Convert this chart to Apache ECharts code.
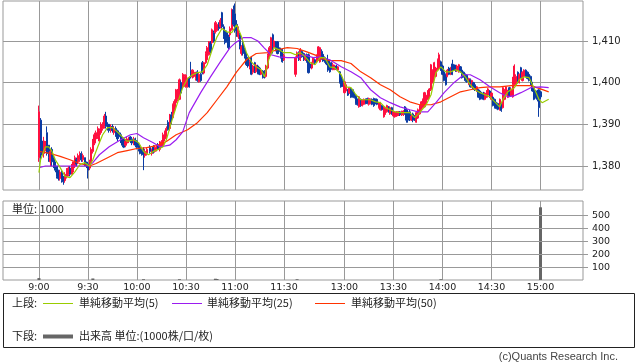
<!DOCTYPE html>
<html>
<head>
<meta charset="utf-8">
<script src="https://cdn.jsdelivr.net/npm/echarts@6/dist/echarts.min.js"></script>
<style>html,body{margin:0;padding:0;background:#fff;}#c{width:638px;height:362px;}</style>
</head>
<body>
<div id="c"></div>
<script>
// ---- tick labels (x axis) ----
const tickLabels = ["9:00","9:30","10:00","10:30","11:00","11:30","13:00","13:30","14:00","14:30","15:00"];
const priceTicks = [1380, 1390, 1400, 1410];
const volumeTicks = [100, 200, 300, 400, 500];

// ---- 1-minute candles: [time, open, close, low, high] ----
const candles = [
["9:00",1382,1393,1381,1394.5],["9:01",1391,1383,1381,1391.5],["9:02",1386,1383,1382.5,1386],["9:03",1383,1386,1382,1387],
["9:04",1384,1385.5,1383.5,1386],["9:05",1388,1383,1382.5,1389.5],["9:06",1385,1382,1381,1385],["9:07",1381,1383.5,1380,1384],
["9:08",1384,1381,1380,1384.5],["9:09",1382,1380,1379.5,1382.5],["9:10",1381,1379,1378.5,1381],["9:11",1380,1377.5,1377,1380],
["9:12",1379,1377,1376.5,1379],["9:13",1377,1378.5,1376.5,1379],["9:14",1378.5,1376.5,1376,1379],["9:15",1377.5,1376.2,1375.5,1377.5],
["9:16",1376.5,1378,1376,1378.5],["9:17",1377.5,1379,1377,1379.5],["9:18",1378,1379.5,1377.5,1380],["9:19",1379.5,1378,1377.5,1380],
["9:20",1378,1380,1378,1380.5],["9:21",1379,1381,1378.5,1381],["9:22",1380,1382,1379.5,1382.5],["9:23",1381.5,1380.5,1380,1382],
["9:24",1381,1382.5,1380.5,1383],["9:25",1381.5,1383,1381,1383.5],["9:26",1383,1381.5,1381,1383.5],["9:27",1381.5,1382.5,1381,1383],
["9:28",1382,1380.5,1380,1382],["9:29",1381,1380,1379.5,1381],["9:30",1380.5,1379,1377,1381],["9:31",1379.5,1381,1379,1381.5],
["9:32",1381,1384,1380.5,1384.5],["9:33",1383.5,1386,1383,1386.5],["9:34",1385.5,1387.5,1385,1388],["9:35",1386.5,1388,1386,1388.5],
["9:36",1387,1389,1386.5,1389.5],["9:37",1386,1388.5,1385.5,1389],["9:38",1388,1390,1387.5,1390.5],["9:39",1389,1390,1388.5,1390.5],
["9:40",1389.5,1392,1389,1392.5],["9:41",1392,1389.5,1389,1393],["9:42",1390,1389,1388.5,1390.5],["9:43",1390,1388.5,1388,1390],
["9:44",1388.5,1389.5,1388,1390],["9:45",1389.5,1388.5,1388,1390],["9:46",1388,1389,1387.5,1389.5],["9:47",1389,1387.5,1387,1389.5],
["9:48",1388.5,1386.5,1386,1388.7],["9:49",1388,1387,1386.5,1388.5],["9:50",1387.5,1386,1385.5,1388],["9:51",1386.5,1385,1384.5,1387],
["9:52",1386.5,1384.5,1384.3,1386.8],["9:53",1385,1386,1384.5,1386.5],["9:54",1385.5,1386.5,1385,1387],["9:55",1386,1386.8,1385.5,1387],
["9:56",1387,1386,1385.5,1387.2],["9:57",1386.5,1385.5,1385,1387],["9:58",1385.5,1386.5,1385,1387],["9:59",1386.5,1385,1384.5,1386.8],
["10:00",1386,1384.5,1384,1386.2],["10:01",1385,1384,1383.5,1385.5],["10:02",1384.5,1383,1382.8,1385],["10:03",1384,1382.7,1382.5,1384.5],
["10:04",1384,1383,1379,1384.5],["10:05",1382.5,1383.5,1382,1384],["10:06",1383,1384,1382.5,1384.5],["10:08",1384.5,1383.5,1383,1385],
["10:09",1383,1384,1382.5,1384.2],["10:10",1384.6,1383.2,1383,1385],["10:11",1383.5,1384.5,1383.2,1385],["10:12",1384,1385,1383.5,1385.2],
["10:13",1385,1384,1383.8,1385.5],["10:14",1384,1385.5,1383.5,1386],["10:15",1384.6,1385.8,1384.5,1386.2],["10:16",1385,1387.5,1384.6,1388],
["10:17",1386.5,1388.2,1386,1388.5],["10:18",1387,1389,1386.5,1389.5],["10:19",1390.5,1388.7,1388.5,1391],["10:20",1389,1392,1388.5,1392.5],
["10:21",1392.3,1390.5,1390,1393],["10:22",1391.6,1394.7,1391.5,1395],["10:23",1393.5,1395.5,1393,1396],["10:24",1395.2,1398.3,1395,1398.5],
["10:25",1396,1398,1395.5,1398.5],["10:26",1396,1400.7,1395.8,1401],["10:27",1400,1397.5,1397,1400.5],["10:28",1399,1402,1398.5,1402.3],
["10:29",1399.5,1401.5,1399,1402],["10:30",1399,1401.8,1398.8,1402],["10:31",1399,1401,1398.8,1401.2],["10:32",1401.2,1399,1398.8,1401.5],
["10:33",1403,1401.4,1401,1405],["10:34",1401.4,1403,1401,1403.2],["10:35",1401.5,1402.5,1401.2,1402.8],["10:36",1401,1402.3,1400.5,1402.6],
["10:37",1402.6,1400.5,1400.2,1403],["10:38",1400.2,1402,1400,1402.3],["10:39",1402,1400.5,1400.2,1402.3],["10:40",1404.8,1402.3,1402,1405.2],
["10:41",1402.3,1404.8,1402,1405],["10:42",1404.8,1407,1404.5,1407.5],["10:43",1405.5,1408.4,1405,1408.8],["10:44",1406.7,1409.8,1406.5,1410],
["10:45",1409.5,1407.5,1407,1410],["10:46",1409.6,1412.7,1409.3,1413],["10:47",1412,1410,1409.6,1412.5],["10:48",1412,1414.4,1411.8,1414.8],
["10:49",1412.5,1414,1412.2,1414.5],["10:50",1414,1413,1412.5,1414.5],["10:51",1413.4,1415,1413,1415.5],["10:52",1416.8,1413.4,1413,1417],
["10:53",1413.4,1411,1410.5,1414],["10:54",1412.5,1409.6,1409.2,1413],["10:55",1412,1410.5,1409.6,1412.5],["10:56",1411,1408.4,1408,1411.5],
["10:57",1411.5,1413,1411,1413.5],["10:58",1412.7,1417.5,1412.5,1417.8],["10:59",1417.5,1414,1413.5,1418.5],["11:00",1416.5,1412.5,1412,1419],
["11:01",1414,1411.5,1411,1415],["11:02",1411,1413,1410.5,1413.5],["11:03",1411.5,1408.6,1408,1412],["11:04",1407,1408.6,1406.5,1409],
["11:05",1409.6,1407,1406.5,1410],["11:06",1408,1406.2,1405.8,1408.5],["11:07",1407,1404.3,1404,1407.2],["11:08",1406,1404,1403.6,1406.2],
["11:09",1403.6,1405,1403.2,1405.5],["11:10",1406,1402,1401.8,1406.3],["11:11",1402.5,1404,1402,1404.3],["11:12",1404.8,1402.6,1402.3,1405],
["11:13",1402.6,1404.2,1402.3,1404.5],["11:14",1404,1402.3,1402,1404.3],["11:15",1403.5,1402,1401.8,1403.8],["11:16",1402,1403,1401.8,1403.2],
["11:17",1402.8,1401.2,1401,1403],["11:18",1402.6,1401.5,1401,1403],["11:19",1401.5,1404,1401.2,1404.3],["11:20",1403.5,1406.5,1403.2,1407],
["11:21",1406,1408.4,1405.8,1408.8],["11:22",1407,1410.8,1406.8,1411],["11:23",1411.5,1408.6,1407,1411.8],["11:24",1408.5,1410,1408.2,1410.3],
["11:25",1409.8,1408,1407.5,1410],["11:26",1409.8,1407,1406.8,1410],["11:27",1408.4,1407.5,1407,1408.6],["11:28",1408,1406,1405.8,1408.4],
["11:29",1408,1405,1404.8,1408.2],["11:30",1405.5,1406.5,1405.2,1407],
["12:30",1402,1406,1401.4,1406.3],["12:31",1406,1407.2,1405.8,1407.5],["12:32",1407.2,1405.5,1405.2,1407.5],["12:33",1405.5,1408,1405.2,1408.3],
["12:34",1407.5,1406.2,1406,1407.8],["12:35",1407,1405.5,1405.2,1407.2],["12:36",1405.5,1406.5,1405.2,1406.8],["12:37",1406.7,1405,1404.8,1407],
["12:38",1406.7,1402.4,1402.2,1407],["12:39",1404.5,1403.5,1403,1405],["12:40",1403.5,1404.8,1403.2,1405],["12:41",1404.8,1405.9,1404.5,1406],
["12:42",1405.5,1404.8,1404.5,1405.8],["12:43",1405,1406.5,1404.8,1406.8],["12:44",1405.5,1408.6,1405.2,1408.8],["12:45",1405,1408.4,1404.8,1408.6],
["12:46",1407.5,1406,1405.5,1408],["12:47",1406.8,1405.2,1405,1407],["12:48",1406,1405,1404.8,1406.3],["12:49",1405.5,1404.5,1404.2,1405.8],
["12:50",1405.5,1403,1402.6,1406.7],["12:51",1404.5,1402.6,1402.4,1405.5],["12:52",1404.8,1403.5,1403.1,1405],["12:53",1403.1,1404.3,1403,1404.8],
["12:54",1403.2,1404,1403,1404.3],["12:55",1404,1403.2,1403,1404.3],["12:56",1403,1403.8,1402.8,1404],["12:57",1402.6,1400,1399.8,1402.8],
["12:58",1401.5,1399,1398.8,1401.8],["12:59",1400.5,1399.2,1399,1401],["13:00",1397.6,1400.2,1397.4,1400.4],["13:01",1398,1399.5,1397.8,1399.8],
["13:02",1398.3,1397,1396.8,1398.5],["13:03",1397.5,1398.8,1397.3,1399],["13:04",1398.6,1396.5,1396.3,1398.8],["13:05",1398.3,1396.8,1396.4,1398.5],
["13:06",1397.5,1396.4,1396.2,1397.8],["13:07",1397,1395,1394.7,1397.2],["13:08",1396,1394.7,1394.5,1396.2],["13:09",1394.2,1396.6,1394,1396.8],
["13:10",1396,1394.5,1394.2,1396.2],["13:11",1394.5,1395.8,1394.3,1396],["13:12",1394.8,1396,1394.6,1396.2],["13:13",1396,1395,1394.8,1396.2],
["13:14",1396.2,1395,1394.8,1396.4],["13:15",1394.8,1396.2,1394.5,1396.4],["13:16",1395,1396,1394.8,1396.2],["13:17",1396,1394.8,1394.6,1396.2],
["13:18",1396.2,1394.5,1394.2,1396.4],["13:19",1396,1395,1394.8,1396.2],["13:20",1396,1394.8,1394.6,1396.2],["13:21",1394,1395.2,1393.8,1395.4],
["13:22",1393.5,1395.2,1393.3,1395.4],["13:23",1394.5,1393.5,1393.3,1394.7],["13:24",1391.8,1394.2,1391.6,1394.4],["13:25",1392.5,1394,1392.3,1394.2],
["13:26",1393,1394.5,1392.8,1394.7],["13:27",1394.2,1393,1392.8,1394.4],["13:28",1392.5,1394,1392.3,1394.2],["13:29",1394,1392.5,1392.3,1394.2],
["13:30",1392,1393,1391.8,1393.2],["13:31",1391.8,1393,1391.6,1393.2],["13:32",1392,1393,1391.8,1393.2],["13:33",1392.3,1393,1392,1393.2],
["13:34",1393,1392.3,1392,1393.2],["13:35",1392.3,1393,1392,1393.3],["13:36",1392.3,1393.2,1392,1393.4],["13:37",1394.2,1392.5,1392.3,1394.4],
["13:38",1393.5,1391,1390.4,1394],["13:39",1393,1391,1390.4,1393.2],["13:40",1393,1391.5,1390.8,1393.5],["13:41",1391,1392,1390.8,1392.2],
["13:42",1392.5,1391,1390.5,1392.8],["13:43",1392,1391,1390.8,1392.2],["13:44",1390.5,1392.8,1390.4,1393],["13:45",1391.5,1393.5,1391.3,1393.8],
["13:46",1392.5,1394.5,1392.3,1394.7],["13:47",1393.5,1395.4,1393.3,1395.6],["13:48",1394,1396,1393.8,1396.2],["13:49",1394.2,1397.6,1394,1397.8],
["13:50",1395,1397,1394.8,1397.2],["13:51",1396,1398,1395.8,1398.2],["13:52",1396.5,1398.5,1396.3,1398.7],["13:53",1398.3,1404.3,1398,1404.5],
["13:54",1400,1403,1399.8,1403.2],["13:55",1401.4,1404.8,1401.2,1405],["13:56",1401.5,1403.5,1401.3,1403.8],["13:57",1403.1,1405.5,1403,1405.8],
["13:58",1403.5,1406.7,1403.3,1407.2],["13:59",1405,1403,1402.8,1405.3],["14:00",1404,1402,1401.8,1404.3],["14:01",1402.6,1400.5,1400.3,1402.8],
["14:02",1402,1399.5,1399.3,1402.2],["14:03",1401.5,1403,1401.3,1403.3],["14:04",1403.5,1402,1401.8,1403.8],["14:05",1402,1403.6,1401.8,1403.8],
["14:06",1404.5,1402,1401.8,1405.5],["14:07",1404.3,1403,1402.8,1404.5],["14:08",1404,1402.8,1402.6,1404.3],["14:09",1402.8,1404,1402.6,1404.3],
["14:10",1402.6,1404.3,1402.4,1404.5],["14:11",1403.8,1402.6,1402.4,1404],["14:12",1403,1401.2,1401,1403.2],["14:13",1402.5,1401.5,1401.2,1402.7],
["14:14",1402,1400.5,1400.2,1402.2],["14:15",1401.8,1400.2,1400,1402],["14:16",1399.6,1401,1399.4,1401.2],["14:17",1400.7,1399,1398.8,1401],
["14:18",1399,1400.5,1398.8,1400.7],["14:19",1400,1398.5,1398.3,1400.2],["14:20",1399.5,1398.3,1398,1399.8],["14:21",1398,1399,1397.8,1399.2],
["14:22",1398.3,1396.5,1396.3,1398.5],["14:23",1398,1396,1395.8,1398.3],["14:24",1397.5,1396.2,1396,1397.8],["14:25",1397.5,1396,1395.8,1397.8],
["14:26",1396,1397.5,1395.8,1397.7],["14:27",1396.5,1398,1396.3,1398.2],["14:28",1397,1398.5,1396.8,1398.7],["14:29",1398,1396.5,1396.3,1398.2],
["14:30",1396,1397.5,1395.8,1397.7],["14:31",1396.5,1394.5,1394.3,1396.7],["14:32",1396,1394,1393.8,1396.2],["14:33",1395.2,1393.8,1393.6,1395.4],
["14:34",1395,1393.6,1393.4,1395.2],["14:35",1393.5,1396,1393.3,1396.2],["14:36",1395,1393.3,1393,1395.2],["14:37",1394,1398.8,1393.8,1399],
["14:38",1396,1398.3,1395.8,1398.5],["14:39",1397,1399,1396.8,1399.2],["14:40",1396.5,1398,1396.3,1398.3],["14:41",1398.8,1397,1396.8,1399],
["14:42",1396.8,1398.5,1396.6,1398.7],["14:43",1396.6,1399.5,1396.4,1401.4],["14:44",1399.5,1404,1399.3,1404.4],["14:45",1399.5,1401.5,1399.3,1402],
["14:46",1402.5,1400,1399.8,1402.7],["14:47",1400,1402,1399.8,1402.2],["14:48",1403.6,1401.2,1401,1403.8],["14:49",1400.5,1402.5,1400.3,1402.7],
["14:50",1401.5,1403,1401.3,1403.2],["14:51",1403,1401.5,1401.3,1403.2],["14:52",1402.5,1401,1400.8,1402.7],["14:53",1402,1400.5,1400.3,1402.2],
["14:54",1401.5,1399.5,1399.3,1401.7],["14:55",1400,1398,1397.8,1400.2],["14:56",1399,1396,1395.8,1399.2],["14:57",1398,1396.5,1396.2,1398.2],
["14:58",1398,1396,1395.5,1398.3],["14:59",1398.3,1394,1391.8,1398.5],["15:00",1397.8,1396.6,1396,1398]
];

// ---- moving averages: [time, value] ----
const ma5 = [
["9:00",1378.4],["9:01",1381.5],["9:04",1384.6],["9:06",1384.6],["9:08",1383.5],["9:10",1381.5],["9:13",1379.6],["9:16",1377.5],
["9:19",1377.2],["9:22",1378.6],["9:25",1380.3],["9:28",1380.8],["9:31",1380.0],["9:33",1381.5],["9:36",1384.6],["9:39",1387.5],
["9:42",1389.2],["9:45",1389.2],["9:48",1388.2],["9:51",1387.0],["9:54",1385.9],["9:58",1386.3],["10:01",1385.6],["10:04",1383.5],
["10:07",1382.7],["10:10",1383.5],["10:13",1384.0],["10:16",1384.6],["10:18",1386.3],["10:21",1390.4],["10:24",1394.2],["10:28",1398.8],
["10:31",1401.0],["10:34",1401.9],["10:37",1402.4],["10:40",1402.6],["10:43",1404.3],["10:46",1407.9],["10:49",1411.0],["10:52",1413.0],
["10:55",1412.2],["10:58",1412.0],["11:01",1413.9],["11:04",1411.0],["11:07",1407.2],["11:10",1405.0],["11:13",1403.8],["11:16",1403.1],
["11:18",1401.4],["11:21",1406.0],["11:24",1408.4],["11:27",1407.9],["11:30",1407.2],["11:34",1407.2],["12:30",1406.7],["12:33",1407.2],
["12:36",1406.2],["12:39",1404.8],["12:42",1404.3],["12:45",1406.0],["12:48",1406.0],["12:51",1403.8],["12:54",1403.6],["12:58",1401.9],
["13:01",1399.0],["13:04",1398.8],["13:07",1397.1],["13:10",1395.9],["13:13",1395.9],["13:16",1395.9],["13:19",1395.4],["13:22",1395.2],
["13:25",1394.0],["13:28",1393.5],["13:31",1393.0],["13:34",1392.8],["13:37",1392.8],["13:40",1392.8],["13:43",1391.6],["13:46",1392.8],
["13:50",1394.7],["13:53",1397.1],["13:56",1402.4],["13:59",1403.8],["14:02",1402.6],["14:05",1402.6],["14:08",1403.1],["14:11",1402.6],
["14:14",1401.4],["14:17",1399.5],["14:20",1398.3],["14:23",1397.6],["14:26",1397.1],["14:29",1396.6],["14:32",1395.4],["14:35",1394.2],
["14:37",1396.0],["14:40",1397.8],["14:44",1398.8],["14:47",1400.7],["14:50",1401.4],["14:53",1401.2],["14:56",1398.8],["14:59",1396.0],
["15:01",1395.2],["15:05",1396.0]
];
const ma25 = [
["9:00",1379.6],["9:04",1380.0],["9:30",1380.0],["9:33",1380.8],["9:37",1382.7],["9:43",1384.6],["9:50",1386.3],["9:56",1387.5],
["10:00",1387.8],["10:04",1386.8],["10:10",1385.6],["10:14",1384.6],["10:20",1385.0],["10:24",1386.3],["10:28",1388.2],["10:32",1392.8],
["10:39",1397.6],["10:45",1401.4],["10:51",1405.0],["10:57",1408.4],["11:00",1409.5],["11:05",1410.8],["11:10",1410.8],["11:14",1410.0],
["11:18",1408.3],["11:22",1406.7],["11:27",1406.2],["11:32",1406.0],["12:31",1406.0],["12:35",1406.7],["12:41",1406.0],["12:45",1406.2],
["12:51",1405.5],["12:58",1403.8],["13:04",1402.6],["13:10",1401.2],["13:16",1398.3],["13:22",1396.4],["13:28",1395.2],["13:34",1394.2],
["13:40",1393.5],["13:45",1393.0],["13:51",1393.0],["13:56",1395.2],["14:01",1397.6],["14:07",1400.0],["14:13",1401.9],["14:17",1401.9],
["14:23",1400.7],["14:29",1399.0],["14:35",1397.6],["14:40",1396.6],["14:44",1396.9],["14:48",1397.6],["14:54",1398.8],["15:00",1399.0],
["15:05",1398.8]
];
const ma50 = [
["9:00",1383.5],["9:07",1383.0],["9:13",1382.3],["9:19",1381.5],["9:25",1380.6],["9:31",1380.0],["9:35",1380.6],["9:42",1382.0],
["9:48",1383.2],["9:54",1383.7],["10:00",1384.2],["10:06",1384.4],["10:12",1384.9],["10:18",1385.9],["10:24",1387.5],["10:31",1388.7],
["10:37",1390.4],["10:43",1392.8],["10:49",1395.9],["10:55",1399.0],["11:01",1402.6],["11:07",1405.5],["11:13",1407.0],["11:20",1407.2],
["11:26",1407.9],["11:32",1408.4],["12:31",1408.2],["12:37",1407.4],["12:43",1406.5],["12:45",1405.9],["12:51",1405.3],["12:58",1405.3],
["13:04",1404.6],["13:10",1402.6],["13:16",1401.2],["13:22",1399.5],["13:28",1398.3],["13:34",1396.6],["13:40",1395.4],["13:46",1394.7],
["13:53",1394.7],["13:59",1395.4],["14:05",1396.6],["14:11",1397.8],["14:17",1398.3],["14:23",1398.8],["14:29",1399.0],["14:35",1399.0],
["14:42",1399.3],["14:48",1399.3],["14:54",1399.3],["15:00",1398.5],["15:05",1397.8]
];

// ---- volume (thousand shares): [time, value] ----
const volume = [["9:00",15],["9:33",12],["10:04",6],["10:26",6],["10:48",10],["10:49",8],["12:31",6],["13:59",6],["15:00",565]];

// ---- minute slots of the time axis (pre-open pad, morning, lunch gap, afternoon, after-close pad) ----
function hm(t){const h=Math.floor(t/60),m=t%60;return h+':'+(m<10?'0':'')+m;}
const slotRanges = [[518,690],[691,696],[750,900],[901,926]];
const cats = [];
slotRanges.forEach(r=>{for(let t=r[0];t<=r[1];t++) cats.push(hm(t));});
const idx = {}; cats.forEach((c,i)=>idx[c]=i);

function fill(list, pick){
  const arr = cats.map(()=> '-');
  list.forEach(r=>{ arr[idx[r[0]]] = pick(r); });
  return arr;
}
const candleData = fill(candles, r=>[r[1],r[2],r[3],r[4]]);
const ma5Data = fill(ma5, r=>r[1]);
const ma25Data = fill(ma25, r=>r[1]);
const ma50Data = fill(ma50, r=>r[1]);
const volData = fill(volume, r=>r[1]);

const isTick = (i,v)=> tickLabels.indexOf(v) >= 0;
const grid = '#999';
const comma = v => String(v).replace(/\B(?=(\d{3})+(?!\d))/g, ',');

const chart = echarts.init(document.getElementById('c'), null, {renderer:'canvas'});
const numFont = 'DejaVu Sans';
const jpFont = '"Noto Sans CJK JP", sans-serif';

chart.setOption({
  animation: false,
  backgroundColor: '#fff',
  grid: [
    {left:3, top:1, width:580, height:189, show:true, borderColor:grid, borderWidth:1, backgroundColor:'#fff'},
    {left:3, top:201, width:580, height:79, show:true, borderColor:grid, borderWidth:1, backgroundColor:'#fff'}
  ],
  xAxis: [
    {type:'category', gridIndex:0, data:cats, boundaryGap:false,
     axisLine:{show:false}, axisTick:{show:false}, axisLabel:{show:false},
     splitLine:{show:true, interval:isTick, lineStyle:{color:grid, width:1}}},
    {type:'category', gridIndex:1, data:cats, boundaryGap:false,
     axisLine:{show:false}, axisTick:{show:false},
     axisLabel:{show:true, interval:isTick, color:'#222', fontFamily:numFont, fontSize:9.5, margin:3},
     splitLine:{show:true, interval:isTick, lineStyle:{color:grid, width:1}}}
  ],
  yAxis: [
    {type:'value', gridIndex:0, position:'right', min:1374.24, max:1419.6, scale:true,
     axisLine:{show:false},
     axisTick:{show:true, length:5, inside:false, lineStyle:{color:grid}, customValues:priceTicks},
     axisLabel:{color:'#222', fontFamily:numFont, fontSize:10, margin:9, customValues:priceTicks,
       formatter:v=> (priceTicks.indexOf(v)>=0 ? comma(v) : '')},
     splitLine:{show:true, lineStyle:{color:grid, width:1}}},
    {type:'value', gridIndex:1, position:'right', min:0, max:614,
     axisLine:{show:false},
     axisTick:{show:true, length:5, lineStyle:{color:grid}, customValues:volumeTicks},
     axisLabel:{color:'#222', fontFamily:numFont, fontSize:9.5, margin:9, customValues:volumeTicks,
       formatter:v=> (volumeTicks.indexOf(v)>=0 ? String(v) : '')},
     splitLine:{show:false}}
  ],
  series: [
    {type:'candlestick', xAxisIndex:0, yAxisIndex:0, data:candleData, barWidth:1.6,
     itemStyle:{color:'#ff1040', color0:'#0b3ca4', borderColor:'#ff1040', borderColor0:'#0b3ca4', borderWidth:1}},
    {type:'line', xAxisIndex:0, yAxisIndex:0, data:ma50Data, connectNulls:true, showSymbol:false, symbol:'none',
     lineStyle:{color:'#ff3300', width:1.2}},
    {type:'line', xAxisIndex:0, yAxisIndex:0, data:ma25Data, connectNulls:true, showSymbol:false, symbol:'none',
     lineStyle:{color:'#9b1cf0', width:1.2}},
    {type:'line', xAxisIndex:0, yAxisIndex:0, data:ma5Data, connectNulls:true, showSymbol:false, symbol:'none',
     lineStyle:{color:'#99cc00', width:1.2}},
    {type:'bar', xAxisIndex:1, yAxisIndex:1, data:volData, barWidth:3, itemStyle:{color:'#666'},
     markLine:{silent:true, symbol:'none', label:{show:false}, lineStyle:{color:grid, width:1, type:'solid'},
       data: volumeTicks.map(v=>({yAxis:v}))}}
  ],
  graphic: [
    {type:'text', left:12, top:203, style:{text:'単位: 1000', font:'11px '+jpFont, fill:'#222'}},
    {type:'rect', shape:{x:3.5, y:293.5, width:631, height:54}, style:{fill:'#fff', stroke:'#222', lineWidth:1}},
    {type:'text', x:12, y:303, style:{text:'上段:', font:'11px '+jpFont, fill:'#222', verticalAlign:'middle'}},
    {type:'line', shape:{x1:43, y1:303.5, x2:73, y2:303.5}, style:{stroke:'#99cc00', lineWidth:1}},
    {type:'text', x:79, y:303, style:{text:'単純移動平均(5)', font:'11px '+jpFont, fill:'#222', verticalAlign:'middle'}},
    {type:'line', shape:{x1:172, y1:303.5, x2:202, y2:303.5}, style:{stroke:'#9b1cf0', lineWidth:1}},
    {type:'text', x:207, y:303, style:{text:'単純移動平均(25)', font:'11px '+jpFont, fill:'#222', verticalAlign:'middle'}},
    {type:'line', shape:{x1:315, y1:303.5, x2:345, y2:303.5}, style:{stroke:'#ff3300', lineWidth:1}},
    {type:'text', x:351, y:303, style:{text:'単純移動平均(50)', font:'11px '+jpFont, fill:'#222', verticalAlign:'middle'}},
    {type:'text', x:12, y:336, style:{text:'下段:', font:'11px '+jpFont, fill:'#222', verticalAlign:'middle'}},
    {type:'line', shape:{x1:43, y1:336.5, x2:73, y2:336.5}, style:{stroke:'#666', lineWidth:4}},
    {type:'text', x:79, y:336, style:{text:'出来高 単位:(1000株/口/枚)', font:'11px '+jpFont, fill:'#222', verticalAlign:'middle'}},
    {type:'text', x:618, y:357, style:{text:'(c)Quants Research Inc.', font:'11px "Liberation Sans", sans-serif', fill:'#444', align:'right', verticalAlign:'middle'}}
  ]
});
</script>
</body>
</html>
